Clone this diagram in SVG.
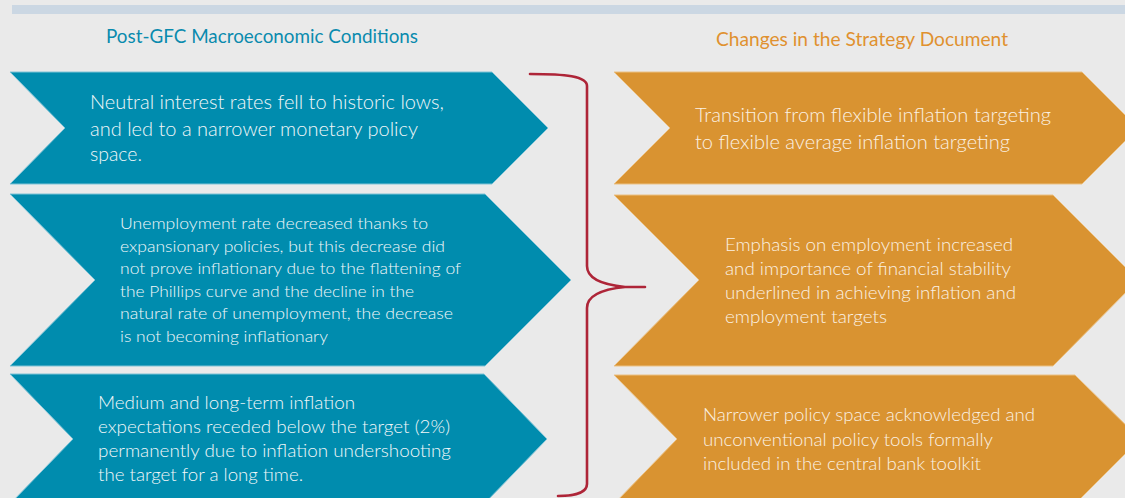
<svg xmlns="http://www.w3.org/2000/svg" width="1125" height="498" viewBox="0 0 1125 498">
  <defs>
    <style>
      .bg { fill: #EAEAEA; }
      .band { fill: #CBD7E3; }
      .head { font-family: Lato, "Liberation Sans", sans-serif; font-size: 19px; }
      .head-teal { fill: #0A8BAE; }
      .head-orange { fill: #E0912F; }
      .teal { fill: #008CAE; stroke: #7FC3D6; stroke-width: 1; }
      .orange { fill: #D99331; stroke: #EBC184; stroke-width: 1; }
      .txt { font-family: Lato, "Liberation Sans", sans-serif; font-weight: 300; }
      .txt-teal { fill: #F2F7F9; }
      .txt-orange { fill: #FBF1E3; }
      .brace { fill: none; stroke: #AE2538; stroke-width: 2.6; stroke-linecap: round; stroke-linejoin: round; }
    </style>
  </defs>

  <rect class="bg" x="0" y="0" width="1125" height="498"/>
  <rect class="band" x="12" y="5" width="1113" height="9"/>

  <!-- column headings -->
  <text class="head head-teal" x="106" y="43" textLength="312" lengthAdjust="spacingAndGlyphs">Post-GFC Macroeconomic Conditions</text>
  <text class="head head-orange" x="716" y="46" textLength="292" lengthAdjust="spacingAndGlyphs">Changes in the Strategy Document</text>

  <!-- left column: conditions -->
  <g id="cond-rates">
    <polygon class="teal" points="10,72 492,72 548,128 492,184 10,184 65,128"/>
    <g class="txt txt-teal" font-size="19">
      <text x="90" y="109" textLength="354" lengthAdjust="spacingAndGlyphs">Neutral interest rates fell to historic lows,</text>
      <text x="90" y="136" textLength="328" lengthAdjust="spacingAndGlyphs">and led to a narrower monetary policy</text>
      <text x="90" y="161" textLength="52" lengthAdjust="spacingAndGlyphs">space.</text>
    </g>
  </g>

  <g id="cond-unemployment">
    <polygon class="teal" points="10,194 485,194 571,280 485,366 10,366 95,280"/>
    <g class="txt txt-teal" font-size="15.5">
      <text x="120" y="229" textLength="308" lengthAdjust="spacingAndGlyphs">Unemployment rate decreased thanks to</text>
      <text x="120" y="252" textLength="325" lengthAdjust="spacingAndGlyphs">expansionary policies, but this decrease did</text>
      <text x="120" y="274" textLength="341" lengthAdjust="spacingAndGlyphs">not prove inflationary due to the flattening of</text>
      <text x="120" y="297" textLength="294" lengthAdjust="spacingAndGlyphs">the Phillips curve and the decline in the</text>
      <text x="120" y="319" textLength="333" lengthAdjust="spacingAndGlyphs">natural rate of unemployment, the decrease</text>
      <text x="120" y="342" textLength="208" lengthAdjust="spacingAndGlyphs">is not becoming inflationary</text>
    </g>
  </g>

  <g id="cond-expectations">
    <polygon class="teal" points="10,374 484,374 547,439 484,504 10,504 73,439"/>
    <g class="txt txt-teal" font-size="18">
      <text x="98" y="409" textLength="257" lengthAdjust="spacingAndGlyphs">Medium and long-term inflation</text>
      <text x="98" y="433" textLength="352" lengthAdjust="spacingAndGlyphs">expectations receded below the target (2%)</text>
      <text x="98" y="457" textLength="353" lengthAdjust="spacingAndGlyphs">permanently due to inflation undershooting</text>
      <text x="98" y="481" textLength="205" lengthAdjust="spacingAndGlyphs">the target for a long time.</text>
    </g>
  </g>

  <!-- right column: strategy changes -->
  <g id="change-fait">
    <polygon class="orange" points="614,72 1082,72 1138,128 1082,184 614,184 670,128"/>
    <g class="txt txt-orange" font-size="19">
      <text x="695" y="122" textLength="356" lengthAdjust="spacingAndGlyphs">Transition from flexible inflation targeting</text>
      <text x="695" y="149" textLength="315" lengthAdjust="spacingAndGlyphs">to flexible average inflation targeting</text>
    </g>
  </g>

  <g id="change-employment">
    <polygon class="orange" points="614,195 1053,195 1138,280 1053,366 614,366 699,280"/>
    <g class="txt txt-orange" font-size="18.5">
      <text x="725" y="251" textLength="288" lengthAdjust="spacingAndGlyphs">Emphasis on employment increased</text>
      <text x="725" y="275" textLength="286" lengthAdjust="spacingAndGlyphs">and importance of financial stability</text>
      <text x="725" y="299" textLength="291" lengthAdjust="spacingAndGlyphs">underlined in achieving inflation and</text>
      <text x="725" y="323" textLength="162" lengthAdjust="spacingAndGlyphs">employment targets</text>
    </g>
  </g>

  <g id="change-toolkit">
    <polygon class="orange" points="614,375 1075,375 1140,439 1075,504 614,504 677,439"/>
    <g class="txt txt-orange" font-size="18">
      <text x="703" y="421" textLength="332" lengthAdjust="spacingAndGlyphs">Narrower policy space acknowledged and</text>
      <text x="703" y="446" textLength="290" lengthAdjust="spacingAndGlyphs">unconventional policy tools formally</text>
      <text x="703" y="470" textLength="278" lengthAdjust="spacingAndGlyphs">included in the central bank toolkit</text>
    </g>
  </g>

  <!-- connector: curly brace gathering the three conditions -->
  <g id="connectors">
    <path class="brace" d="M530,74 C565,74 587,76 587,86 L587,266 C587,280 605,285 625,287 L645,287 M625,287 C605,289 587,294 587,308 L587,484 C587,494 570,496 558,496"/>
  </g>
</svg>
